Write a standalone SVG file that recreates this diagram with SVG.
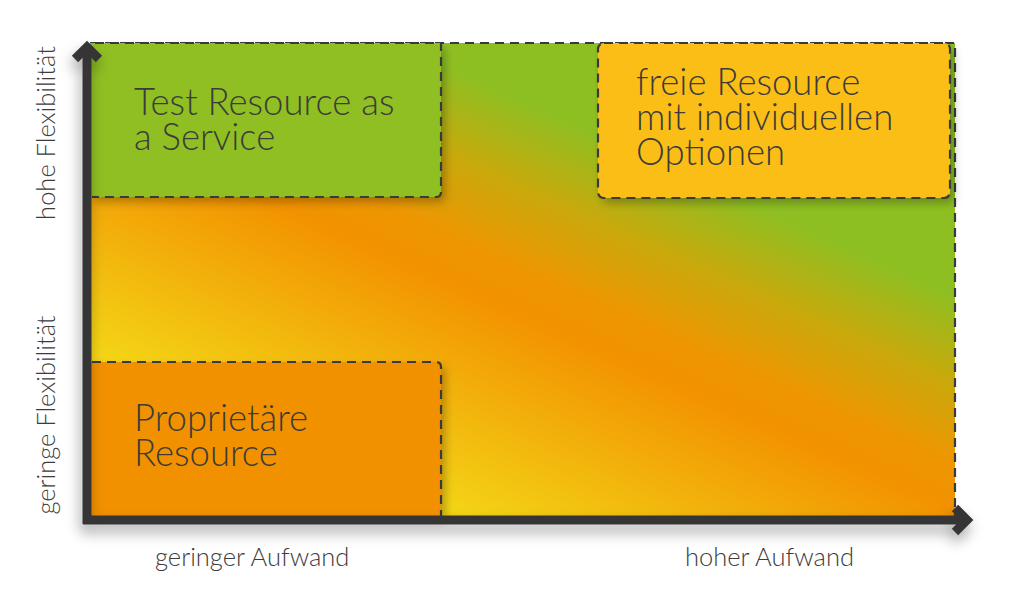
<svg xmlns="http://www.w3.org/2000/svg" width="1024" height="599" viewBox="0 0 1024 599">
  <style>
    .lbl { font-family: Lato, "Open Sans", "Liberation Sans", sans-serif; font-weight: 300; fill: #3c3c3c; }
    .box { font-size: 36.5px; }
    .ax { font-size: 25.5px; }
    .dash { fill: none; stroke: #3a3a3a; stroke-width: 2.2; stroke-dasharray: 9 6; }
    .axis { fill: none; stroke: #363636; stroke-width: 9; }
  </style>
  <defs>
    <linearGradient id="bg" gradientUnits="userSpaceOnUse" x1="455" y1="530" x2="660" y2="75">
      <stop offset="0" stop-color="#f4d916"/>
      <stop offset="0.1" stop-color="#f3c913"/>
      <stop offset="0.45" stop-color="#f29200"/>
      <stop offset="0.53" stop-color="#ee9602"/>
      <stop offset="0.68" stop-color="#c9a90c"/>
      <stop offset="0.84" stop-color="#8ebf22"/>
      <stop offset="1" stop-color="#8ebf22"/>
    </linearGradient>
    <filter id="sh" x="-10%" y="-10%" width="130%" height="140%">
      <feDropShadow dx="4" dy="5" stdDeviation="5" flood-color="#000" flood-opacity="0.28"/>
    </filter>
    <filter id="ash" x="-5%" y="-5%" width="115%" height="120%">
      <feDropShadow dx="-2" dy="8" stdDeviation="7" flood-color="#000" flood-opacity="0.35"/>
    </filter>
  </defs>

  <g id="background">
    <rect x="90" y="43" width="865" height="475" fill="url(#bg)"/>
    <path class="dash" d="M90,43 H955 V518"/>
  </g>

  <g id="node-taas">
    <path d="M90,43 H441 V192 Q441,197 436,197 H90 Z" fill="#8fbf22" filter="url(#sh)"/>
    <path class="dash" d="M95,43 H441 V192 Q441,197 436,197 H92"/>
    <text class="lbl box" x="134" y="115">Test Resource as</text>
    <text class="lbl box" x="134" y="150">a Service</text>
  </g>

  <g id="node-frei">
    <rect x="598" y="43" width="352" height="155" rx="6" fill="#fbbe19" filter="url(#sh)"/>
    <rect class="dash" x="598" y="43" width="352" height="155" rx="6"/>
    <text class="lbl box" x="636" y="95">freie Resource</text>
    <text class="lbl box" x="636" y="130">mit individuellen</text>
    <text class="lbl box" x="636" y="165">Optionen</text>
  </g>

  <g id="node-proprietaer">
    <path d="M90,362 H436 Q441,362 441,367 V516 H90 Z" fill="#f29100" filter="url(#sh)"/>
    <path class="dash" d="M92,362 H436 Q441,362 441,367 V516"/>
    <text class="lbl box" x="134" y="431">Proprietäre</text>
    <text class="lbl box" x="134" y="466">Resource</text>
  </g>

  <g id="axes" filter="url(#ash)">
    <path class="axis" d="M87,524 V46"/>
    <path class="axis" d="M83,520 H966"/>
    <path class="axis" d="M75,59 L87,47 L99,59"/>
    <path class="axis" d="M955,508 L967,520 L955,532"/>
  </g>

  <g id="axis-labels">
    <text class="lbl ax" x="155" y="566">geringer Aufwand</text>
    <text class="lbl ax" x="685" y="566">hoher Aufwand</text>
    <text class="lbl ax" text-anchor="middle" transform="translate(55,133) rotate(-90)">hohe Flexibilität</text>
    <text class="lbl ax" text-anchor="middle" transform="translate(55,415) rotate(-90)">geringe Flexibilität</text>
  </g>
</svg>
